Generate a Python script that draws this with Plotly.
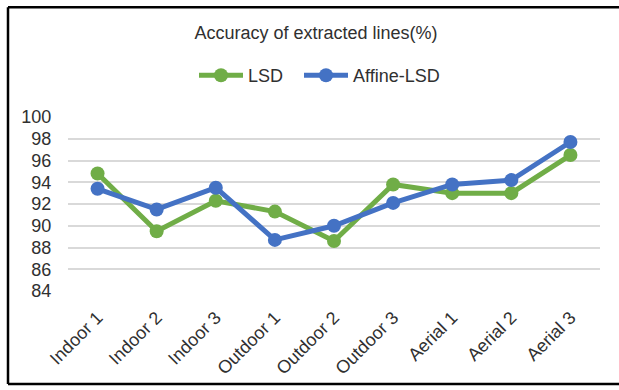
import plotly.graph_objects as go

categories = ["Indoor 1", "Indoor 2", "Indoor 3", "Outdoor 1", "Outdoor 2",
              "Outdoor 3", "Aerial 1", "Aerial 2", "Aerial 3"]
lsd = [94.8, 89.5, 92.3, 91.3, 88.6, 93.8, 93.0, 93.0, 96.5]
affine_lsd = [93.4, 91.5, 93.5, 88.7, 90.0, 92.1, 93.8, 94.2, 97.7]
y_ticks = [84, 86, 88, 90, 92, 94, 96, 98, 100]

GREEN = "#70AD47"
BLUE = "#4472C4"
TEXT = "#303030"

W, H = 619, 390
L, R, T, B = 68, 19, 117, 97
pw, ph = W - L - R, H - T - B


def px_x(x):
    return (x - L) / pw


def px_y(y):
    return (H - B - y) / ph


fig = go.Figure()
fig.add_trace(go.Scatter(
    x=categories, y=lsd, name="LSD", mode="lines+markers",
    line=dict(color=GREEN, width=5), marker=dict(size=14, color=GREEN),
    cliponaxis=False, legend="legend",
))
fig.add_trace(go.Scatter(
    x=categories, y=affine_lsd, name="Affine-LSD", mode="lines+markers",
    line=dict(color=BLUE, width=5), marker=dict(size=14, color=BLUE),
    cliponaxis=False, legend="legend2",
))

# outer chart frame (left, top, bottom edges; right edge runs off the page)
frame = dict(type="line", xref="paper", yref="paper",
             line=dict(color="black", width=2.5), layer="below")
fig.add_shape(x0=px_x(8), x1=px_x(8), y0=px_y(387), y1=px_y(6), **frame)
fig.add_shape(x0=px_x(8), x1=px_x(625), y0=px_y(6), y1=px_y(6), **frame)
fig.add_shape(x0=px_x(8), x1=px_x(625), y0=px_y(387), y1=px_y(387), **frame)

legend_style = dict(orientation="h", xanchor="left", xref="paper",
                    y=px_y(75), yanchor="middle", font=dict(size=18, color=TEXT),
                    itemwidth=44, bgcolor="rgba(0,0,0,0)")

fig.update_layout(
    width=W, height=H,
    margin=dict(l=L, r=R, t=T, b=B),
    paper_bgcolor="white", plot_bgcolor="white",
    font=dict(family="Liberation Sans, Arial, sans-serif", size=18, color=TEXT),
    title=dict(text="Accuracy of extracted lines(%)", x=(316 - L) / pw, xref="paper",
               xanchor="center", y=1 - 33 / H, yanchor="middle",
               font=dict(size=18, color=TEXT)),
    showlegend=True,
    legend=dict(x=px_x(194), **legend_style),
    legend2=dict(x=px_x(299), **legend_style),
    xaxis=dict(type="category", range=[-0.5, 8.5], showgrid=False,
               showline=False, ticks="outside", ticklen=8,
               tickcolor="rgba(0,0,0,0)", tickangle=-45,
               tickfont=dict(size=18, color=TEXT)),
    yaxis=dict(range=[84, 100], tickvals=y_ticks, showgrid=True,
               gridcolor="#D9D9D9", gridwidth=1.5, zeroline=False,
               showline=False, ticks="outside", ticklen=12,
               tickcolor="rgba(0,0,0,0)",
               tickfont=dict(size=18, color=TEXT)),
)

fig.write_html("out.html")
